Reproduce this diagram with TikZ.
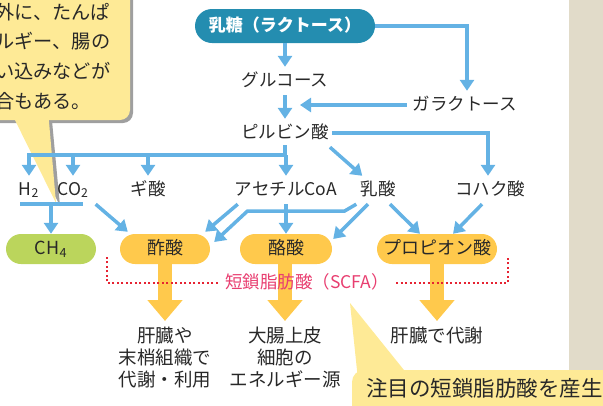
\documentclass[tikz,border=0pt]{standalone}
\usepackage{fontspec}
\setmainfont{Noto Sans CJK JP}
\usetikzlibrary{arrows.meta, positioning, calc}
\definecolor{flowblue}{RGB}{100,178,228}
\definecolor{lactoseteal}{RGB}{36,141,176}
\definecolor{methanegreen}{RGB}{187,213,92}
\definecolor{acidyellow}{RGB}{255,201,76}
\definecolor{notecolor}{RGB}{254,234,150}
\definecolor{panelbeige}{RGB}{225,219,201}
\definecolor{scfapink}{RGB}{232,62,112}
\definecolor{dotred}{RGB}{230,35,50}
\definecolor{inkgray}{RGB}{40,40,40}
\newcommand{\lblfont}{\fontsize{17.5}{21.5}\selectfont}
\newcommand{\pillfont}{\fontsize{18}{21.5}\selectfont}
\newcommand{\fatefont}{\fontsize{18.5}{21.7}\selectfont}
\newcommand{\notefont}{\fontsize{19.2}{29.6}\selectfont}

\begin{document}
\begin{tikzpicture}[x=1pt, y=-1pt,
    lbl/.style={text=inkgray, font=\lblfont, inner xsep=3pt, inner ysep=6pt,
                text height=13pt, text depth=3pt},
    multi/.style={text=inkgray, font=\fatefont, inner xsep=3pt, inner ysep=6pt,
                  align=center},
    pill/.style={lbl, font=\pillfont, rounded corners=15pt, minimum height=30pt,
                 inner ysep=0pt},
    flow/.style={draw=flowblue, line width=3.5pt, -{Triangle[width=14pt,length=11pt]}},
    bar/.style={draw=flowblue, line width=3.5pt, line cap=rect},
    fat/.style={draw=acidyellow, line width=14pt, -{Triangle[width=34pt,length=21pt]}},
    dotline/.style={draw=dotred, line width=2pt, dash pattern=on 2pt off 2.5pt}
  ]
  \useasboundingbox (0,0) rectangle (603,405);

  % Background panel and callouts
  \fill[panelbeige] (569,0) rectangle (603,370);
  \fill[gray!75, rounded corners=10pt] (-20,-20) rectangle (133,123);
  \fill[gray!75] (13,110) -- (60,206) -- (51,110) -- cycle;
  \fill[notecolor, rounded corners=10pt] (-20,-20) rectangle (130,120);
  \fill[notecolor] (10,110) -- (56,203) -- (48,110) -- cycle;
  \node[text=inkgray, font=\notefont, align=left, inner sep=0pt, anchor=north west]
        (topnote) at (-5,3) {外に、たんぱ\\ルギー、腸の\\い込みなどが\\合もある。};

  \fill[notecolor, rounded corners=12pt] (352,370) rectangle (640,440);
  \fill[notecolor] (350,303) -- (358,380) -- (412,380) -- cycle;
  \node[text=inkgray, font=\fontsize{21.5}{26}\selectfont, inner sep=0pt,
        anchor=base west] (bottomnote) at (366,396) {注目の短鎖脂肪酸を産生};

  % Nodes
  \node[pill, fill=lactoseteal, text=white, minimum width=180pt, minimum height=34pt,
        rounded corners=17pt, font=\fontsize{17}{21}\selectfont\bfseries] (lactose)
        at (285,26) {乳糖（ラクトース）};
  \node[lbl] (glucose)   at (285,81)  {グルコース};
  \node[lbl] (galactose) at (465,105) {ガラクトース};
  \node[lbl] (pyruvate)  at (285,133) {ピルビン酸};

  \node[lbl] (H2)        at (29,190)  {H\textsubscript{2}};
  \node[lbl] (CO2)       at (73,190)  {CO\textsubscript{2}};
  \node[lbl] (formic)    at (148,190) {ギ酸};
  \node[lbl] (acetylCoA) at (286,190) {アセチルCoA};
  \node[lbl] (lactic)    at (378,190) {乳酸};
  \node[lbl] (succinic)  at (490,190) {コハク酸};

  \node[pill, fill=methanegreen, minimum width=90pt]  (CH4)       at (51,249)  {CH\textsubscript{4}};
  \node[pill, fill=acidyellow,   minimum width=90pt]  (acetic)    at (165,249) {酢酸};
  \node[pill, fill=acidyellow,   minimum width=92pt]  (butyric)   at (286,249) {酪酸};
  \node[pill, fill=acidyellow,   minimum width=120pt] (propionic) at (437,249) {プロピオン酸};

  \node[multi, anchor=north] (use1) at (165,321) {肝臓や\\末梢組織で\\代謝・利用};
  \node[multi, anchor=north] (use2) at (285,321) {大腸上皮\\細胞の\\エネルギー源};
  \node[multi, anchor=north] (use3) at (437,321) {肝臓で代謝};

  % Arrows: lactose -> pyruvate
  \draw[flow] (lactose.south) -- (glucose.north);
  \draw[flow] (glucose.south) -- (pyruvate.north);
  \draw[flow] (lactose.east) -| ([xshift=2pt]galactose.north);
  \coordinate (galin) at (300,105);
  \draw[flow, shorten <=3pt] (galactose.west) -- (galin);

  % Arrows: pyruvate branches
  \draw[flow] (pyruvate.east) -| ([xshift=-2pt]succinic.north);
  \draw[flow] ([xshift=-2pt]pyruvate.south east) -- ([xshift=5pt]lactic.north west);
  \coordinate (split) at (285,155);
  \draw[bar] (pyruvate.south) -- (split);
  \draw[bar] (split -| H2.north) -- (split);
  \foreach \n in {H2, CO2, formic, acetylCoA}
    \draw[flow] (split -| \n.north) -- (\n.north);

  % Arrows: to the pills
  \draw[bar] ([xshift=-7pt]H2.south) -- ([xshift=8pt]CO2.south);
  \draw[flow] (CH4.north |- H2.south) -- (CH4.north);
  \draw[flow] ([xshift=4pt]CO2.south east) -- ([xshift=8pt,yshift=2pt]acetic.north west);
  \draw[flow] ([xshift=6pt]acetylCoA.south west) -- ([xshift=-5pt,yshift=2pt]acetic.north east);
  \draw[flow] ([xshift=-1pt]lactic.south west) -- ++(-12,7) -- ++(-97,0)
        -- ($(acetic.east)+(4,-7)$);
  \draw[flow] (acetylCoA.south) -- (butyric.north);
  \draw[flow] ([xshift=-10pt]lactic.south) -- ($(butyric.east)+(1,-10)$);
  \draw[flow] ([xshift=12pt]lactic.south) -- ([xshift=-17pt]propionic.north);
  \draw[flow] ([xshift=-8pt]succinic.south) -- ([xshift=16pt]propionic.north);

  % Fat arrows: fate of the acids
  \draw[fat] (acetic.south) -- (use1.north);
  \draw[fat] (butyric.south -| use2.north) -- (use2.north);
  \draw[fat] (propionic.south) -- (use3.north);

  % SCFA bracket
  \node[lbl, text=scfapink, inner xsep=7pt] (scfa) at (307,283) {短鎖脂肪酸（SCFA）};
  \coordinate (scfaL) at (107,257);
  \coordinate (scfaR) at (508,257);
  \draw[dotline] (scfa.west) -| (scfaL);
  \draw[dotline] (scfa.east) -| (scfaR);
\end{tikzpicture}
\end{document}
